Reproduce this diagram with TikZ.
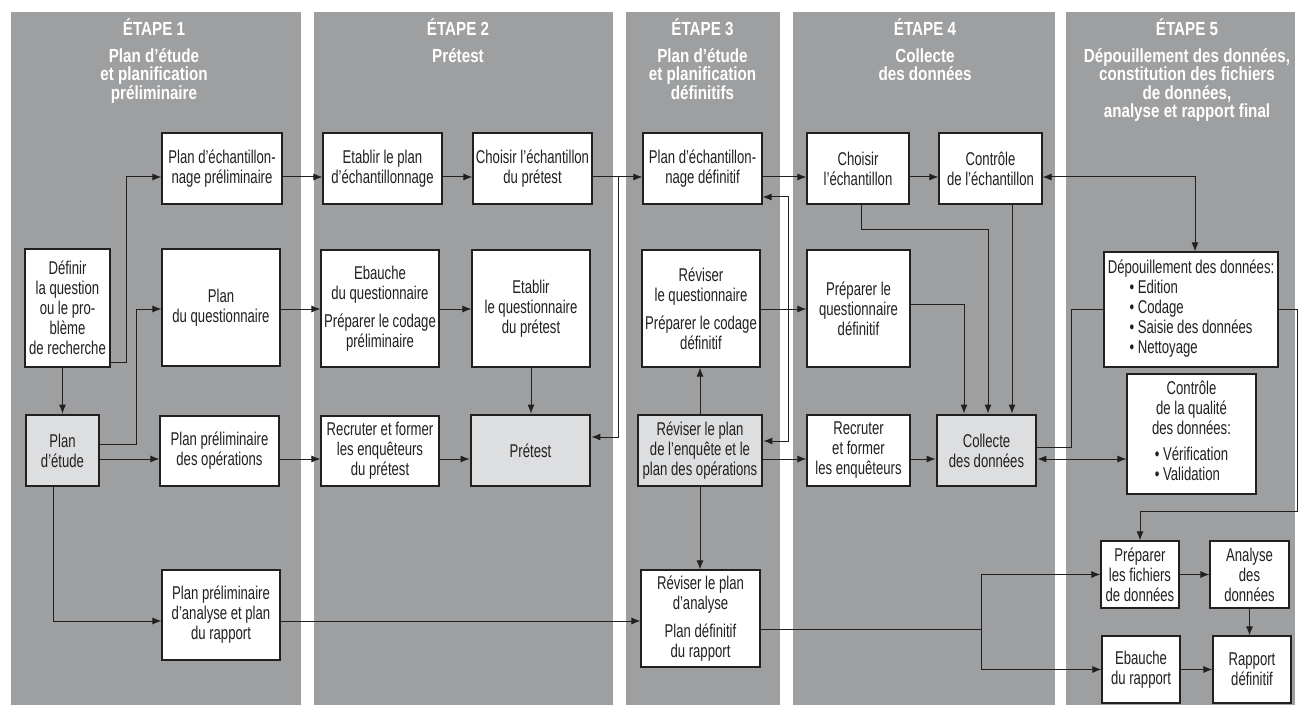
\documentclass[tikz,border=0pt]{standalone}
\usepackage{fontspec}
\setmainfont{Liberation Sans}
\newfontfamily\boxfont{Liberation Sans}[FakeStretch=0.71]
\newfontfamily\headfont{Liberation Sans}[FakeStretch=0.8]
\usepackage{xcolor}
\usetikzlibrary{arrows.meta,calc}
\definecolor{panelgray}{RGB}{158,159,161}
\definecolor{boxgray}{RGB}{221,222,224}
\definecolor{ink}{RGB}{35,31,32}
\tikzset{
	>={Latex[length=9pt,width=7pt]},
	panel/.style={fill=panelgray},
	head/.style={
			text=white, anchor=north, align=center, inner sep=0pt,
			font=\headfont\bfseries\fontsize{19}{18.5}\selectfont
		},
	box/.style={
			draw=ink, line width=1.1pt, fill=white, text=ink, align=center,
			inner sep=1pt, font=\boxfont\fontsize{18.5}{20}\selectfont
		},
	keybox/.style={box, fill=boxgray, line width=2.8pt},
	sz/.style 2 args={minimum width=#1pt, minimum height=#2pt},
	link/.style={draw=ink, line width=1pt}
}

\begin{document}
\begin{tikzpicture}[x=1pt,y=-1pt]
	\fill[white] (0,0) rectangle (1306,711);
	\fill[panel] (11,12) rectangle (301,705);
	\fill[panel] (314,12) rectangle (613,705);
	\fill[panel] (626,12) rectangle (780,705);
	\fill[panel] (793,12) rectangle (1055,705);
	\fill[panel] (1066,12) rectangle (1295,705);

	\node[head] (h1) at (154,18) {ÉTAPE 1\\[8.5pt]Plan d’étude\\et planification\\préliminaire};
	\node[head] (h2) at (458,18) {ÉTAPE 2\\[8.5pt]Prétest};
	\node[head] (h3) at (702.5,18) {ÉTAPE 3\\[8.5pt]Plan d’étude\\et planification\\définitifs};
	\node[head] (h4) at (925,18) {ÉTAPE 4\\[8.5pt]Collecte\\des données};
	\node[head] (h5) at (1187,18) {ÉTAPE 5\\[8.5pt]Dépouillement des données,\\constitution des fichiers\\de données,\\analyse et rapport final};

	\node[box, sz={85}{118}] (def) at (67.5,308) {Définir\\la question\\ou le pro-\\blème\\de recherche};
	\node[keybox, sz={73}{71}] (etude) at (62.5,450.5) {Plan\\d’étude};
	\node[box, sz={120}{71}] (pechp) at (222,168.5) {Plan d’échantillon-\\nage préliminaire};
	\node[box, sz={118}{117}] (pquest) at (221,307.5) {Plan\\du questionnaire};
	\node[box, sz={119}{70}] (pops) at (219.5,451) {Plan préliminaire\\des opérations};
	\node[box, sz={118}{90}] (panap) at (221,615) {Plan préliminaire\\d’analyse et plan\\du rapport};

	\node[box, sz={119}{71}] (eplan) at (382.5,168.5) {Etablir le plan\\d’échantillonnage};
	\node[box, sz={119}{71}] (chpre) at (532.5,168.5) {Choisir l’échantillon\\du prétest};
	\node[box, sz={118}{117}] (ebq) at (380,308.5) {Ebauche\\du questionnaire\\[8pt]Préparer le codage\\préliminaire};
	\node[box, sz={118}{117}] (etq) at (531,308.5) {Etablir\\le questionnaire\\du prétest};
	\node[box, sz={118}{70}] (recp) at (380,451) {Recruter et former\\les enquêteurs\\du prétest};
	\node[keybox, sz={119}{71}] (pretest) at (530.5,450.5) {Prétest};

	\node[box, sz={119}{71}] (pechd) at (702.5,168.5) {Plan d’échantillon-\\nage définitif};
	\node[box, sz={118}{117}] (revq) at (701,308.5) {Réviser\\le questionnaire\\[8pt]Préparer le codage\\définitif};
	\node[keybox, sz={124}{71}] (revp) at (700,450.5) {Réviser le plan\\de l’enquête et le\\plan des opérations};
	\node[box, sz={119}{97}] (reva) at (700.5,618.5) {Réviser le plan\\d’analyse\\[8pt]Plan définitif\\du rapport};

	\node[box, sz={102}{71}] (chech) at (858,168.5) {Choisir\\l’échantillon};
	\node[box, sz={103}{71}] (ctrlech) at (990.5,168.5) {Contrôle\\de l’échantillon};
	\node[box, sz={103}{117}] (pqdef) at (858.5,308.5) {Préparer le\\questionnaire\\définitif};
	\node[box, sz={103}{71}] (recenq) at (858.5,450.5) {Recruter\\et former\\les enquêteurs};
	\node[keybox, sz={99}{71}] (collecte) at (986.5,450.5) {Collecte\\des données};

	\node[box, sz={174}{115}] (depou) at (1191,309.5) {Dépouillement des données:\\\begin{tabular}[t]{@{}l@{}}\textbullet\ Edition\\\textbullet\ Codage\\\textbullet\ Saisie des données\\\textbullet\ Nettoyage\end{tabular}};
	\node[box, sz={129}{120}] (ctrlq) at (1191.5,434) {Contrôle\\de la qualité\\des données:\\[6pt]\begin{tabular}[t]{@{}l@{}}\textbullet\ Vérification\\\textbullet\ Validation\end{tabular}};
	\node[box, sz={78}{67}] (prepf) at (1140,574.5) {Préparer\\les fichiers\\de données};
	\node[box, sz={79}{67}] (analyse) at (1249.5,574.5) {Analyse\\des\\données};
	\node[box, sz={78}{67}] (ebrap) at (1141,669.5) {Ebauche\\du rapport};
	\node[box, sz={78}{67}] (rapdef) at (1252,669.5) {Rapport\\définitif};

	\coordinate (r1) at (0,177);
	\coordinate (r2) at (0,309);
	\coordinate (r3) at (0,459);
	\coordinate (r5) at (0,621);
	\coordinate (g2) at (618,177);
	\coordinate (g3) at (788,441);
	\coordinate (g5) at (981,629);

	\draw[link,->] (def.east |- 0,362) -- ++(16,0) |- (pechp.west |- r1);
	\draw[link,->] (def.south -| etude.north) -- (etude.north);
	\draw[link,->] (etude.east |- 0,444) -- ++(36,0) |- (pquest.west |- r2);
	\draw[link,->] (etude.east |- r3) -- (pops.west |- r3);
	\draw[link,->] ([xshift=-9.5pt]etude.south) |- (panap.west |- r5);

	\draw[link,->] (pechp.east |- r1) -- (eplan.west |- r1);
	\draw[link,->] (eplan.east |- r1) -- (chpre.west |- r1);
	\draw[link,->] (chpre.east |- r1) -- (pechd.west |- r1);
	\draw[link,->] (g2) |- (pretest.east |- 0,437);
	\draw[link,->] (pquest.east |- r2) -- (ebq.west |- r2);
	\draw[link,->] (ebq.east |- r2) -- (etq.west |- r2);
	\draw[link,->] (etq.south) -- (etq.south |- pretest.north);
	\draw[link,->] (pops.east |- r3) -- (recp.west |- r3);
	\draw[link,->] (recp.east |- r3) -- (pretest.west |- r3);
	\draw[link,->] (panap.east |- r5) -- (reva.west |- r5);

	\draw[link,<->] (pechd.east |- 0,197) -| (g3) -- (revp.east |- g3);
	\draw[link,->] (revp.north) -- (revp.north |- revq.south);
	\draw[link,->] (revp.south) -- (revp.south |- reva.north);
	\draw[link,->] (pechd.east |- r1) -- (chech.west |- r1);
	\draw[link,->] (revq.east |- r2) -- (pqdef.west |- r2);
	\draw[link,->] (revp.east |- r3) -- (recenq.west |- r3);
	\draw[link,->] (reva.east |- g5) -- (g5) |- (prepf.west);
	\draw[link,->] (g5) |- (ebrap.west);

	\draw[link,->] (chech.east |- r1) -- (ctrlech.west |- r1);
	\draw[link,<->] (ctrlech.east |- r1) -| ([xshift=4pt]depou.north);
	\draw[link,->] ([xshift=3pt]chech.south) -- ++(0,25) -| ([xshift=1.5pt]collecte.north);
	\draw[link,->] (pqdef.east |- 0,304) -| ([xshift=-22.5pt]collecte.north);
	\draw[link,->] ([xshift=21.5pt]ctrlech.south) -- ([xshift=25.5pt]collecte.north);
	\draw[link,->] (recenq.east |- r3) -- (collecte.west |- r3);
	\draw[link,<->] (collecte.east |- r3) -- (ctrlq.west |- r3);
	\draw[link] (collecte.east |- 0,447) -- ++(34,0) |- (depou.west);

	\draw[link,->] (depou.east) -- ++(19,0) |- ([yshift=29pt]prepf.north) -- (prepf.north);
	\draw[link,->] (prepf.east) -- (analyse.west);
	\draw[link,->] (analyse.south) -- (analyse.south |- rapdef.north);
	\draw[link,->] (ebrap.east) -- (rapdef.west);
\end{tikzpicture}
\end{document}
